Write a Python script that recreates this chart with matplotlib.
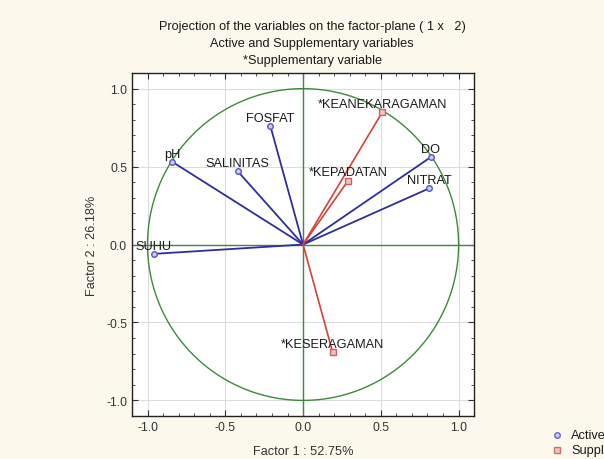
import numpy as np
import matplotlib
matplotlib.use("Agg")
import matplotlib.pyplot as plt
from matplotlib.ticker import MultipleLocator, FormatStrFormatter

# active variables (factor 1, factor 2 coordinates)
active_names = ["SUHU", "pH", "SALINITAS", "FOSFAT", "DO", "NITRAT"]
active_f1 = [-0.96, -0.84, -0.42, -0.21, 0.82, 0.81]
active_f2 = [-0.06, 0.53, 0.47, 0.76, 0.56, 0.36]

# supplementary variables
supp_names = ["*KEANEKARAGAMAN", "*KEPADATAN", "*KESERAGAMAN"]
supp_f1 = [0.51, 0.29, 0.19]
supp_f2 = [0.85, 0.41, -0.69]

plt.rcParams['font.family'] = ['Liberation Sans', 'DejaVu Sans']

BLUE = "#2e2e9e"
RED = "#d8403a"
GREEN = "#3d8a3d"
BG = "#fcf8ec"
TXT = "#1a1a1a"
FS = 9.2

fig = plt.figure(figsize=(6.04, 4.6), dpi=100, facecolor=BG)
ax = fig.add_axes([0.2185, 0.0935, 0.5665, 0.7455])
ax.set_facecolor("white")

ax.set_xlim(-1.1, 1.1)
ax.set_ylim(-1.1, 1.1)
ax.xaxis.set_major_locator(MultipleLocator(0.5))
ax.yaxis.set_major_locator(MultipleLocator(0.5))
ax.xaxis.set_minor_locator(MultipleLocator(0.1))
ax.yaxis.set_minor_locator(MultipleLocator(0.1))
ax.tick_params(which="both", direction="in", top=True, right=True,
               labelsize=8.8, colors="#333333")
ax.tick_params(which="major", length=4)
ax.tick_params(which="minor", length=2)
ax.xaxis.set_major_formatter(FormatStrFormatter("%.1f"))
ax.yaxis.set_major_formatter(FormatStrFormatter("%.1f"))
ax.grid(True, which="major", color="#dcdcdc", lw=0.8)
ax.set_axisbelow(True)
for s in ax.spines.values():
    s.set_color("#222222")
    s.set_linewidth(1.0)

# unit circle and axes through origin
t = np.linspace(0, 2 * np.pi, 400)
ax.plot(np.cos(t), np.sin(t), color=GREEN, lw=1.0)
ax.axhline(0, color=GREEN, lw=1.0)
ax.axvline(0, color=GREEN, lw=1.0)

for name, x, y in zip(active_names, active_f1, active_f2):
    ax.plot([0, x], [0, y], color=BLUE, lw=1.3)
    ax.plot(x, y, "o", ms=4, mfc="#ccccff", mec="#5555cc", mew=1)
    ax.annotate(name, (x, y), xytext=(0, 6), textcoords="offset points",
                ha="center", va="center", fontsize=FS, color=TXT)

for name, x, y in zip(supp_names, supp_f1, supp_f2):
    ax.plot([0, x], [0, y], color=RED, lw=1.2)
    ax.plot(x, y, "s", ms=4, mfc="#f5c0c0", mec="#d06060", mew=1)
    ax.annotate(name, (x, y), xytext=(0, 6), textcoords="offset points",
                ha="center", va="center", fontsize=FS, color=TXT)

ax.set_xlabel("Factor 1 : 52.75%", fontsize=FS, color="#333333", labelpad=9)
ax.set_ylabel("Factor 2 : 26.18%", fontsize=FS, color="#333333", labelpad=6)

fig.text(0.517, 1 - 27 / 460, "Projection of the variables on the factor-plane ( 1 x   2)",
         ha="center", va="center", fontsize=FS, color=TXT)
fig.text(0.517, 1 - 44 / 460, "Active and Supplementary variables",
         ha="center", va="center", fontsize=FS, color=TXT)
fig.text(0.517, 1 - 61 / 460, "*Supplementary variable",
         ha="center", va="center", fontsize=FS, color=TXT)

# legend sits outside the plot, running off the right edge as in the source
fig.lines.append(plt.Line2D([557 / 604], [1 - 436 / 460], marker="o", ms=4,
                            mfc="#ccccff", mec="#6666cc", transform=fig.transFigure))
fig.lines.append(plt.Line2D([557 / 604], [1 - 451 / 460], marker="s", ms=4,
                            mfc="#f5c0c0", mec="#d07070", transform=fig.transFigure))
fig.text(571 / 604, 1 - 436 / 460, "Active", fontsize=FS, va="center", color=TXT)
fig.text(571 / 604, 1 - 451 / 460, "Supplementary", fontsize=FS, va="center", color=TXT)

fig.savefig("out.png", dpi=100, facecolor=BG)
